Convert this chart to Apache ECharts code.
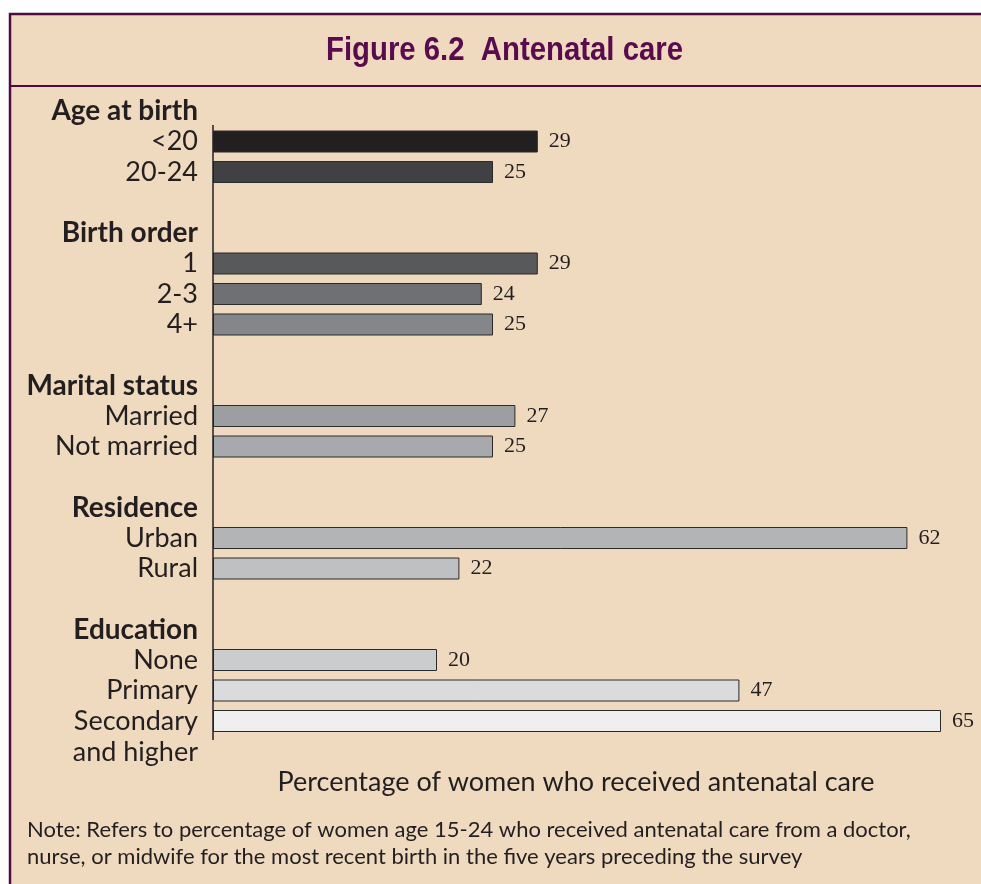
<!DOCTYPE html>
<html><head><meta charset="utf-8">
<script src="https://cdn.jsdelivr.net/npm/echarts@6/dist/echarts.min.js"></script>
<style>html,body{margin:0;padding:0;background:#fff}#c{width:981px;height:884px}</style>
</head><body><div id="c"></div>
<script>
// ---- data ----
const groupNames = ['Age at birth', 'Birth order', 'Marital status', 'Residence', 'Education'];
const ageLabels = ['<20', '20-24'];
const ageValues = [29, 25];
const orderLabels = ['1', '2-3', '4+'];
const orderValues = [29, 24, 25];
const maritalLabels = ['Married', 'Not married'];
const maritalValues = [27, 25];
const residenceLabels = ['Urban', 'Rural'];
const residenceValues = [62, 22];
const educationLabels = ['None', 'Primary', 'Secondary\nand higher'];
const educationValues = [20, 47, 65];
const titleText = 'Figure 6.2  Antenatal care';
const axisTitle = 'Percentage of women who received antenatal care';
const noteLines = ['Note: Refers to percentage of women age 15-24 who received antenatal care from a doctor,',
                   'nurse, or midwife for the most recent birth in the five years preceding the survey'];

// ---- styles ----
const barColors = ['#231f20', '#414042', '#58595b', '#6f7073', '#858689', '#9d9ea1',
                   '#a8a9ac', '#b2b4b6', '#bfc0c2', '#cbcccd', '#dadbdc', '#efefef'];

const groupLabels = [ageLabels, orderLabels, maritalLabels, residenceLabels, educationLabels];
const groupValues = [ageValues, orderValues, maritalValues, residenceValues, educationValues];

const categories = [];
const seriesData = [];
const headerIdx = new Set();
let k = 0;
groupNames.forEach((g, i) => {
  if (i > 0) { categories.push(''); seriesData.push(null); }
  headerIdx.add(categories.length);
  categories.push(g); seriesData.push(null);
  groupLabels[i].forEach((lab, j) => {
    categories.push(lab);
    seriesData.push({ value: groupValues[i][j], itemStyle: { color: barColors[k++] } });
  });
});

// condensed title: measure and squeeze horizontally
const TITLE_FONT = 'bold 33px "Liberation Sans", Arial, sans-serif';
const mctx = document.createElement('canvas').getContext('2d');
mctx.font = TITLE_FONT;
const titleScale = Math.min(1, 357 / mctx.measureText(titleText).width);

const chart = echarts.init(document.getElementById('c'));
const FONT = 'Lato, "Open Sans", sans-serif';
chart.setOption({
  animation: false,
  backgroundColor: '#ffffff',
  grid: { left: 213, top: 95.75, width: 761.6, height: 640.5, outerBoundsMode: 'none' },
  xAxis: {
    type: 'value', min: 0, max: 68,
    axisLine: { show: false }, axisTick: { show: false },
    axisLabel: { show: false }, splitLine: { show: false }
  },
  yAxis: {
    type: 'category', inverse: true, data: categories,
    axisLine: { show: false }, axisTick: { show: false },
    axisLabel: {
      margin: 15,
      interval: 0,
      formatter: (val, idx) => {
        if (!val) return '';
        if (headerIdx.has(idx)) return '{h|' + val + '}';
        let lines = val.split('\n');
        if (lines.length > 1) lines = [' '].concat(lines);
        return lines.map(l => '{n|' + l + '}').join('\n');
      },
      rich: {
        h: { fontFamily: FONT, fontWeight: 'bold', fontSize: 28, color: '#231f20', lineHeight: 31, align: 'right' },
        n: { fontFamily: FONT, fontSize: 27, color: '#231f20', lineHeight: 31, align: 'right' }
      }
    }
  },
  series: [{
    type: 'bar',
    data: seriesData,
    barWidth: 22,
    itemStyle: { borderColor: '#2b2a2b', borderWidth: 1 },
    label: {
      show: true, position: 'right', distance: 11,
      fontFamily: '"Liberation Serif", serif', fontSize: 22, color: '#231f20'
    }
  }],
  graphic: [
    { type: 'rect', z: -10, shape: { x: 10, y: 14, width: 1000, height: 900 },
      style: { fill: '#efd9bf', stroke: '#4f0c41', lineWidth: 2.5 } },
    { type: 'line', z: -5, shape: { x1: 10, y1: 86, x2: 981, y2: 86 },
      style: { stroke: '#4f0c41', lineWidth: 2 } },
    { type: 'line', z: 10, shape: { x1: 213, y1: 125, x2: 213, y2: 740 },
      style: { stroke: '#231f20', lineWidth: 1.5 } },
    { type: 'text', x: 504.5, y: 51, scaleX: titleScale,
      style: { text: titleText, fill: '#5a0b4d', font: TITLE_FONT,
               textAlign: 'center', textVerticalAlign: 'middle' } },
    { type: 'text', x: 576, y: 782,
      style: { text: axisTitle, fill: '#231f20', font: '27px ' + FONT,
               textAlign: 'center', textVerticalAlign: 'middle' } },
    { type: 'text', x: 27, y: 830,
      style: { text: noteLines[0], fill: '#231f20', font: '22px ' + FONT,
               textAlign: 'left', textVerticalAlign: 'middle' } },
    { type: 'text', x: 27, y: 857,
      style: { text: noteLines[1], fill: '#231f20', font: '22px ' + FONT,
               textAlign: 'left', textVerticalAlign: 'middle' } }
  ]
});
</script></body></html>
